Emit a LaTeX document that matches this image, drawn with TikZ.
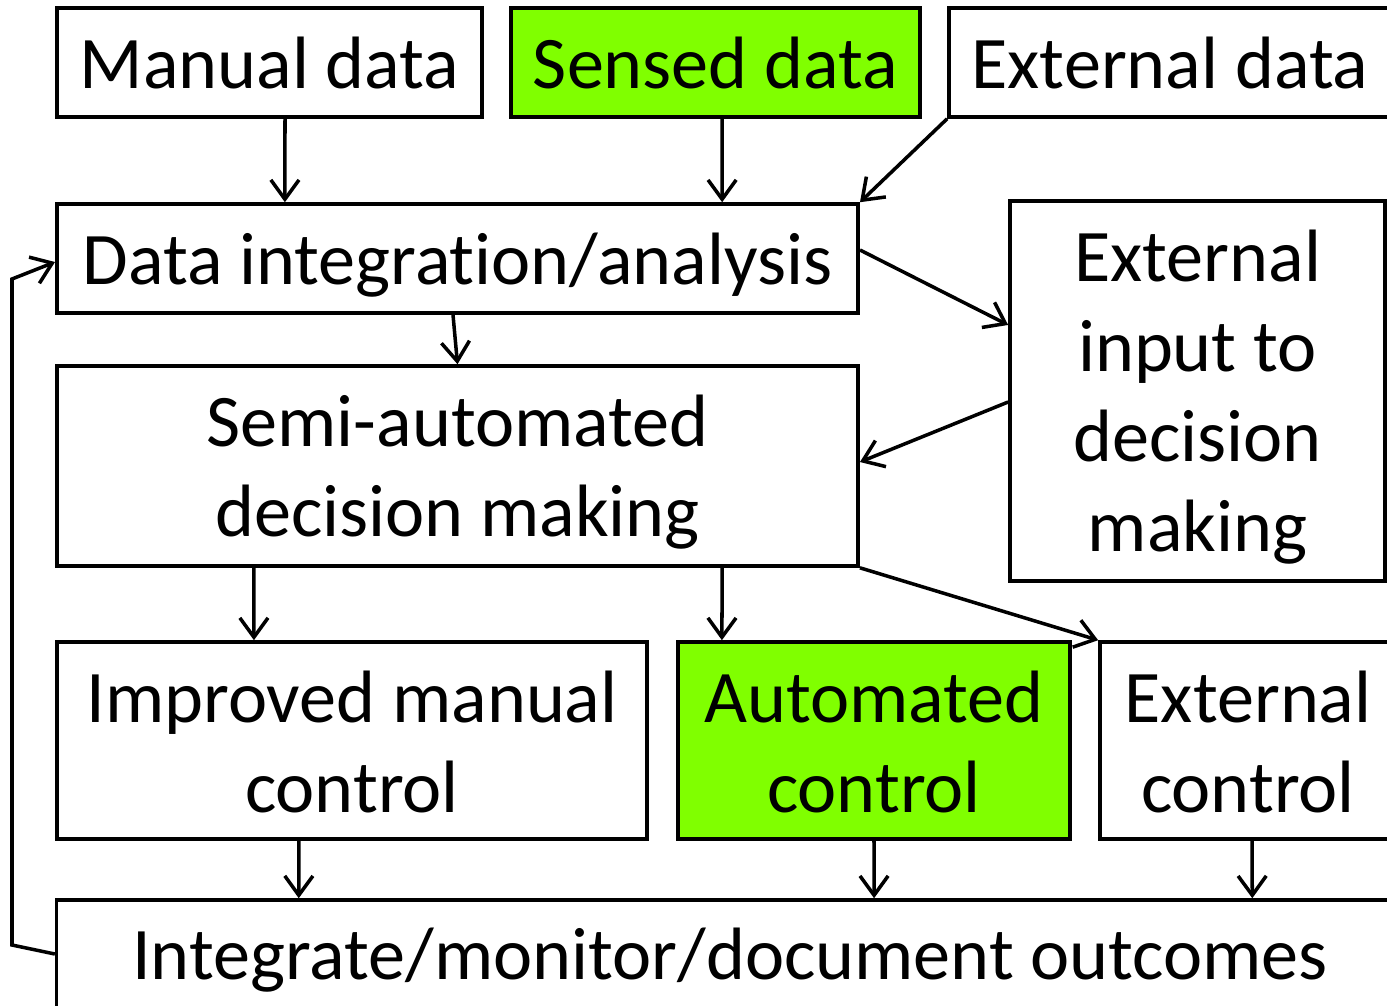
\documentclass[tikz,border=0pt]{standalone}
\usepackage{fontspec}
\setmainfont{Carlito}[Ligatures=NoCommon]
\usetikzlibrary{arrows.meta}
\definecolor{limegreen}{HTML}{80FF00}
% raises the first line of a multi-line box so the block sits a little lower
\newcommand\firstlinestrut[1]{\rule{0pt}{#1}}
\begin{document}
\begin{tikzpicture}[x=0.01cm, y=-0.01cm,
  box/.style={draw, line width=1pt, rectangle, inner sep=0pt,
    font=\fontsize{21.1pt}{25.6pt}\selectfont, align=center},
  oneline/.style={text depth=0pt},
  hot/.style={fill=limegreen},
  arr/.style={line width=1pt, -{Straight Barb[length=5.5pt,width=8pt]}}]
\clip (0,0) rectangle (1387,1005);
\useasboundingbox (0,0) rectangle (1387,1005);

% sources
\node[box, oneline, minimum width=4.25cm, minimum height=1.09cm] (manual) at (269.5,62.5) {Manual data};
\node[box, oneline, hot, minimum width=4.09cm, minimum height=1.09cm] (sensed) at (715.5,62.5) {Sensed data};
\node[box, oneline, minimum width=4.42cm, minimum height=1.09cm] (external) at (1170,62.5) {External data};

% analysis and decisions
\node[box, oneline, minimum width=8.01cm, minimum height=1.09cm] (integ) at (457.5,258.5) {Data integration/analysis};
\node[box, minimum width=3.75cm, minimum height=3.80cm] (extin) at (1197.5,391) {\firstlinestrut{18pt}External\\input to\\decision\\making};
\node[box, minimum width=8.01cm, minimum height=2.00cm] (semi) at (457.5,466) {\firstlinestrut{18pt}Semi-automated\\decision making};

% control
\node[box, minimum width=5.90cm, minimum height=1.97cm] (improved) at (352,740.5) {\firstlinestrut{15.5pt}Improved manual\\control};
\node[box, hot, minimum width=3.92cm, minimum height=1.97cm] (auto) at (874,740.5) {\firstlinestrut{15.5pt}Automated\\control};
\node[box, minimum width=2.96cm, minimum height=1.97cm] (extctl) at (1248,740.5) {\firstlinestrut{15.5pt}External\\control};

% outcomes
\node[box, oneline, minimum width=13.46cm, minimum height=1.08cm] (outcomes) at (730,954) {Integrate/monitor/document outcomes};

% feedback route
\coordinate (fb1) at (12,945);
\coordinate (fb2) at (12,279);

% connectors
\draw[arr] ([xshift=.155cm]manual.south) -- ([xshift=-1.725cm]integ.north);
\draw[arr] ([xshift=.065cm]sensed.south) -- ([xshift=2.645cm]integ.north);
\draw[arr] (external.south west) -- (integ.north east);
\draw[arr] ([yshift=.085cm]integ.east) -- ([yshift=.66cm]extin.west);
\draw[arr] ([xshift=-.045cm]integ.south) -- (semi.north);
\draw[arr] ([yshift=-.11cm]extin.west) -- ([yshift=.04cm]semi.east);
\draw[arr] ([xshift=-2.035cm]semi.south) -- ([xshift=-.98cm]improved.north);
\draw[arr] ([xshift=2.645cm]semi.south) -- ([xshift=-1.52cm]auto.north);
\draw[arr] (semi.south east) -- (extctl.north west);
\draw[arr] ([xshift=-.53cm]improved.south) -- ([xshift=-4.31cm]outcomes.north);
\draw[arr] (auto.south) -- ([xshift=1.44cm]outcomes.north);
\draw[arr] ([xshift=.04cm]extctl.south) -- ([xshift=5.22cm]outcomes.north);
\draw[arr] (outcomes.west) -- (fb1) -- (fb2) -- ([yshift=-.035cm]integ.west);
\end{tikzpicture}
\end{document}
